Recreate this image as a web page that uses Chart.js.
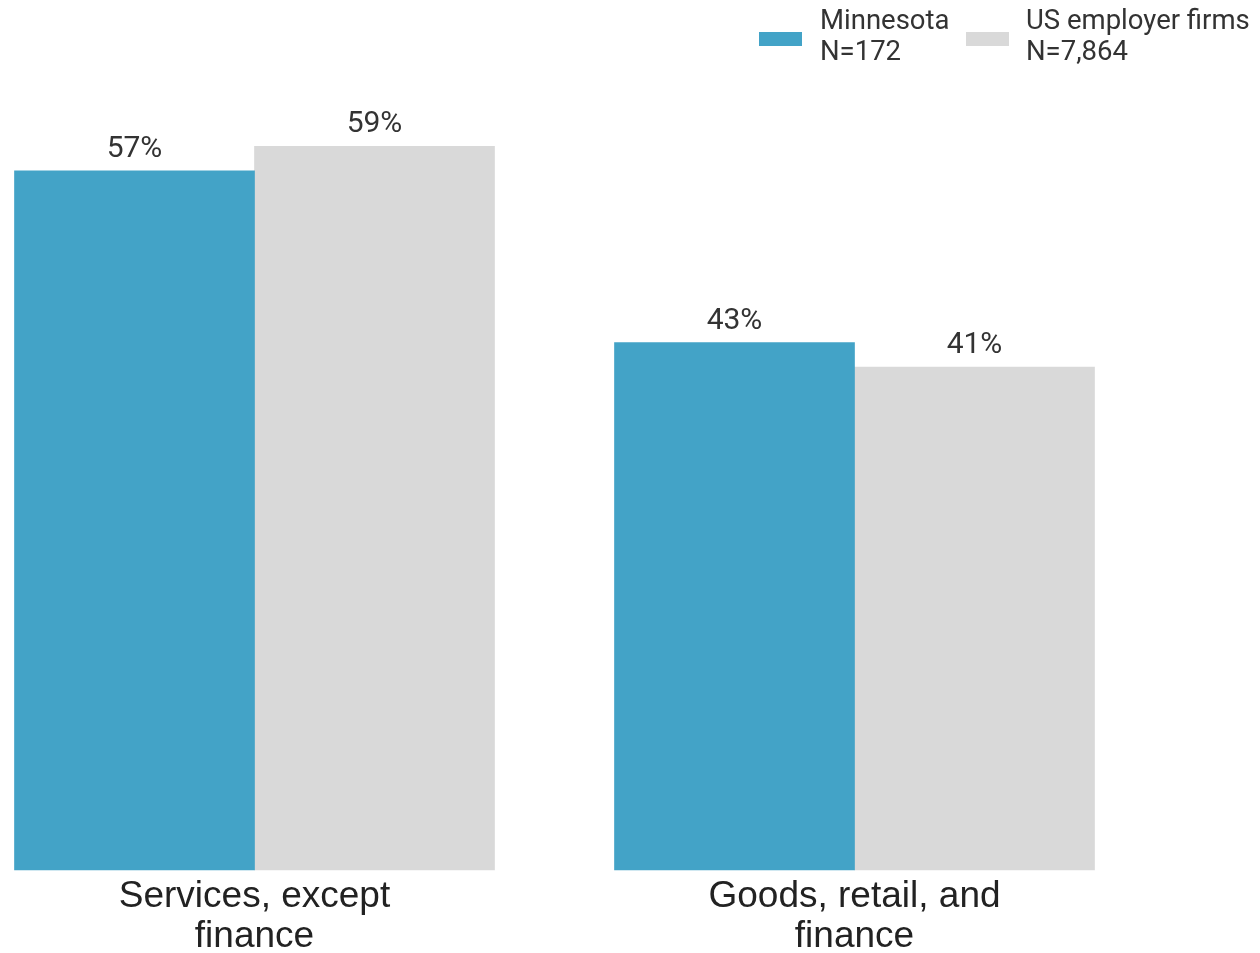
<!DOCTYPE html>
<html>
<head>
<meta charset="utf-8">
<script src="https://cdn.jsdelivr.net/npm/chart.js@4/dist/chart.umd.min.js"></script>
<style>
  html, body { margin: 0; padding: 0; background: #ffffff; }
  #wrap { position: relative; width: 1260px; height: 953px; }
  #chart { position: absolute; left: 0; top: 0; }
  .legend-item { position: absolute; font-family: Roboto, "Noto Sans", sans-serif; font-size: 27.5px; line-height: 31px; color: #333333; white-space: nowrap; }
  .swatch { position: absolute; width: 43px; height: 14px; }
</style>
</head>
<body>
<div id="wrap">
  <canvas id="chart" width="1260" height="953"></canvas>
  <div class="swatch" style="left:759px; top:32px; background:#43A3C7;"></div>
  <div class="legend-item" style="left:820px; top:4px;">Minnesota<br>N=172</div>
  <div class="swatch" style="left:966px; top:32px; background:#D9D9D9;"></div>
  <div class="legend-item" style="left:1026px; top:4px;">US employer firms<br>N=7,864</div>
</div>
<script>
const categories = [["Services, except", "finance"], ["Goods, retail, and", "finance"]];
const seriesNames = ["Minnesota", "US employer firms"];
const minnesotaValues = [57, 43];
const usValues = [59, 41];
const seriesColors = ["#43A3C7", "#D9D9D9"];

const valueLabels = {
  id: 'valueLabels',
  afterDatasetsDraw(chart) {
    const ctx = chart.ctx;
    ctx.save();
    ctx.font = '30px Roboto, "Noto Sans", sans-serif';
    ctx.fillStyle = '#333333';
    ctx.textAlign = 'center';
    ctx.textBaseline = 'alphabetic';
    chart.data.datasets.forEach((ds, di) => {
      const meta = chart.getDatasetMeta(di);
      meta.data.forEach((bar, i) => {
        ctx.fillText(ds.data[i] + '%', bar.x, bar.y - 14);
      });
    });
    ctx.restore();
  }
};

new Chart(document.getElementById('chart'), {
  type: 'bar',
  data: {
    labels: categories,
    datasets: [
      { label: seriesNames[0], data: minnesotaValues, backgroundColor: seriesColors[0], barThickness: 240, clip: false },
      { label: seriesNames[1], data: usValues, backgroundColor: seriesColors[1], barThickness: 240, clip: false }
    ]
  },
  options: {
    responsive: false,
    animation: false,
    layout: { padding: { left: 254.5, right: 405.5, top: 11.45, bottom: 0 } },
    plugins: { legend: { display: false }, tooltip: { enabled: false } },
    scales: {
      x: {
        offset: false,
        grid: { display: false, drawTicks: false },
        border: { display: false },
        ticks: {
          font: { family: '"Liberation Sans", Arial, sans-serif', size: 37, lineHeight: 1.08 },
          color: '#222222',
          padding: 7,
          maxRotation: 0,
          autoSkip: false
        },
        afterFit: (scale) => { scale.height = 83; }
      },
      y: {
        display: false,
        min: 0,
        max: 70
      }
    }
  },
  plugins: [valueLabels]
});
</script>
</body>
</html>
